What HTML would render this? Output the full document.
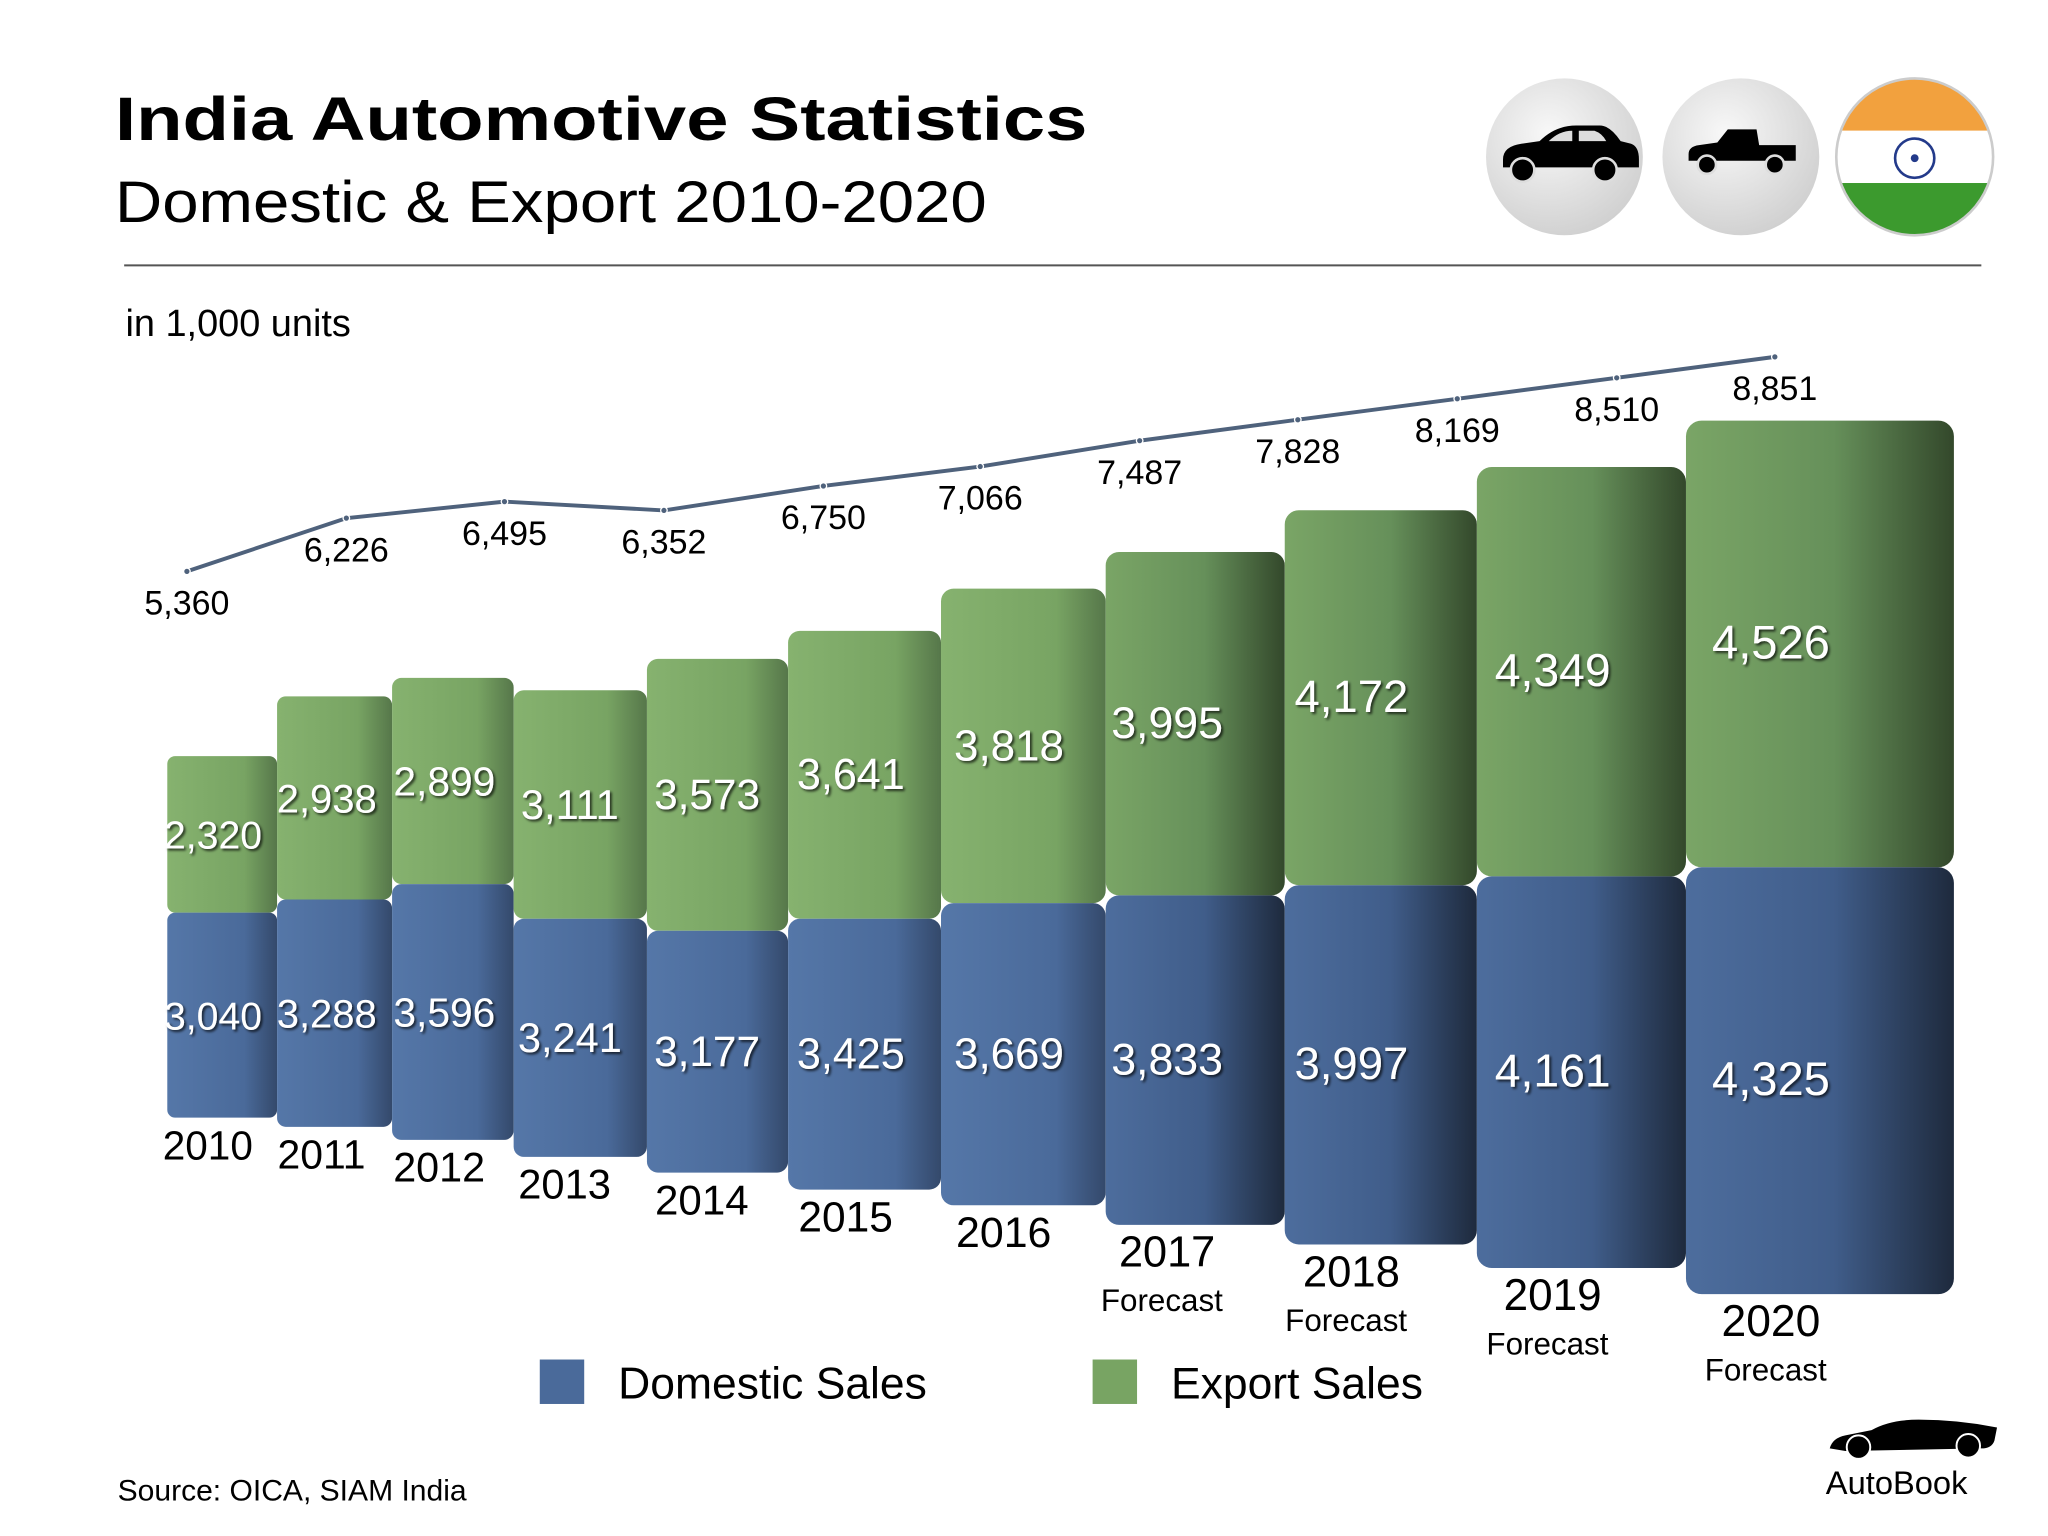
<!DOCTYPE html>
<html><head><meta charset="utf-8"><style>
html,body{margin:0;padding:0;background:#fff;}
svg{display:block;font-family:"Liberation Sans",sans-serif;}
</style></head><body>
<svg id="chart" width="2048" height="1536" viewBox="0 0 1567 1175" preserveAspectRatio="none" xmlns="http://www.w3.org/2000/svg">
<defs>
<linearGradient id="gBlue" x1="0" y1="0" x2="1" y2="0">
<stop offset="0" stop-color="#5577a8"/><stop offset="0.7" stop-color="#4a6a9a"/><stop offset="1" stop-color="#34496b"/></linearGradient>
<linearGradient id="gGreen" x1="0" y1="0" x2="1" y2="0">
<stop offset="0" stop-color="#86b26f"/><stop offset="0.7" stop-color="#78a463"/><stop offset="1" stop-color="#56774a"/></linearGradient>
<linearGradient id="gBlueDark" x1="0" y1="0" x2="1" y2="0">
<stop offset="0" stop-color="#4d6d9d"/><stop offset="0.55" stop-color="#405d8a"/><stop offset="1" stop-color="#1e2a3d"/></linearGradient>
<linearGradient id="gGreenDark" x1="0" y1="0" x2="1" y2="0">
<stop offset="0" stop-color="#7aa566"/><stop offset="0.55" stop-color="#66905a"/><stop offset="1" stop-color="#33482b"/></linearGradient>
<radialGradient id="gCircle" cx="0.4" cy="0.35" r="0.7"><stop offset="0" stop-color="#f8f8f8"/><stop offset="1" stop-color="#cfcfcf"/></radialGradient>
<filter id="sh" x="-10%" y="-10%" width="130%" height="130%"><feDropShadow dx="1.5" dy="1.5" stdDeviation="1" flood-color="#000" flood-opacity="0.7"/></filter>
</defs>
<text x="88" y="107" font-size="47" font-weight="bold" fill="#000" textLength="744" lengthAdjust="spacingAndGlyphs">India Automotive Statistics</text>
<text x="88" y="170" font-size="45" fill="#000" textLength="667" lengthAdjust="spacingAndGlyphs">Domestic &amp; Export 2010-2020</text>
<line x1="95" y1="203" x2="1516" y2="203" stroke="#555" stroke-width="1.5"/>
<text x="96" y="257" font-size="29" fill="#000">in 1,000 units</text>
<g>
<circle cx="1197" cy="120" r="60" fill="url(#gCircle)"/>
<path d="M1150 122 q0-10 14-12 l14-2 q12-12 28-12 l18 0 q8 0 16 12 l8 2 q6 2 6 12 l0 6 l-104 0 z" fill="#000"/>
<path d="M1185 108 q8-8 18-8 l0 8 z M1208 100 l12 0 q6 2 9 8 l-21 0 z" fill="#ddd"/>
<circle cx="1165" cy="130" r="9" fill="#000" stroke="#ddd" stroke-width="2"/><circle cx="1228" cy="130" r="9" fill="#000" stroke="#ddd" stroke-width="2"/>
</g>
<g>
<circle cx="1332" cy="120" r="60" fill="url(#gCircle)"/>
<path d="M1292 118 q0-6 8-7 l14-2 l8-10 l22 0 l2 12 l28 0 l0 12 l-82 0 z" fill="#000"/>
<circle cx="1306" cy="126" r="7" fill="#000" stroke="#ddd" stroke-width="2"/><circle cx="1358" cy="126" r="7" fill="#000" stroke="#ddd" stroke-width="2"/>
</g>
<g>
<clipPath id="fc"><circle cx="1465" cy="120" r="60"/></clipPath>
<g clip-path="url(#fc)"><rect x="1405" y="60" width="120" height="40" fill="#f2a13e"/><rect x="1405" y="100" width="120" height="40" fill="#fff"/><rect x="1405" y="140" width="120" height="40" fill="#3c9a2e"/></g>
<circle cx="1465" cy="120" r="60" fill="none" stroke="#ccc" stroke-width="2"/>
<circle cx="1465" cy="121" r="15" fill="none" stroke="#233a8a" stroke-width="2"/><circle cx="1465" cy="121" r="3" fill="#233a8a"/>
</g>
<g id="bars"></g>
<g id="line"></g>
<g>
<rect x="413" y="1040" width="34" height="34" fill="#4a6a9a"/>
<text x="473" y="1070" font-size="34" fill="#000">Domestic Sales</text>
<rect x="836" y="1040" width="34" height="34" fill="#78a463"/>
<text x="896" y="1070" font-size="34" fill="#000">Export Sales</text>
</g>
<text x="90" y="1148" font-size="23" fill="#000">Source:  OICA, SIAM India</text>
<g>
<path d="M1400 1108 q2-8 12-10 l20-4 q14-8 36-8 q30 0 60 6 l-2 10 q-2 6-10 6 l-104 2 z" fill="#000"/>
<circle cx="1422" cy="1107" r="9" fill="#000" stroke="#fff" stroke-width="1.5"/><circle cx="1506" cy="1106" r="9" fill="#000" stroke="#fff" stroke-width="1.5"/>
<text x="1397" y="1143" font-size="25" fill="#000">AutoBook</text>
</g>
</svg>
<script>
const years = ["2010","2011","2012","2013","2014","2015","2016","2017","2018","2019","2020"];
const domestic = [3040,3288,3596,3241,3177,3425,3669,3833,3997,4161,4325];
const exportSales = [2320,2938,2899,3111,3573,3641,3818,3995,4172,4349,4526];
const totals = [5360,6226,6495,6352,6750,7066,7487,7828,8169,8510,8851];
const forecast = [false,false,false,false,false,false,false,true,true,true,true];

const NS="http://www.w3.org/2000/svg";
function mk(tag,attrs,parent){const e=document.createElementNS(NS,tag);for(const k in attrs)e.setAttribute(k,attrs[k]);parent.appendChild(e);return e;}
const leftE=[128,212,300,393,495,603,720,846,983,1130,1290];
const rightE=[212,300,393,495,603,720,846,983,1130,1290,1495];
const bottoms=[855,862,872,885,897,910,922,937,952,970,990];
const labelX=[155,242,332,428,533,643,764,893,1034,1188,1355];
function scaleK(i){return 0.0516+i*0.001165+i*i*0.0001225;}
const bars=document.getElementById('bars');
for(let i=0;i<years.length;i++){
  const k=scaleK(i), x=leftE[i], w=rightE[i]-leftE[i];
  const dh=domestic[i]*k, eh=exportSales[i]*k;
  const dTop=bottoms[i]-dh, eTop=dTop-eh;
  const dark=i>=7;
  const r=6+i*0.6;
  const eg=mk('rect',{x:x,y:eTop,width:w,height:eh,rx:r,fill:dark?'url(#gGreenDark)':'url(#gGreen)'},bars);
  
  
  const dg=mk('rect',{x:x,y:dTop,width:w,height:dh,rx:r,fill:dark?'url(#gBlueDark)':'url(#gBlue)'},bars);
  
  
  const fs=30+i*0.6;
  const et=mk('text',{x:labelX[i]+(i<7?8:0),y:eTop+eh/2+11,'font-size':fs,fill:'#fff','text-anchor':'middle',filter:'url(#sh)'},bars);
  et.textContent=exportSales[i].toLocaleString('en-US');
  
  
  const dt=mk('text',{x:labelX[i]+(i<7?8:0),y:dTop+dh/2+11,'font-size':fs,fill:'#fff','text-anchor':'middle',filter:'url(#sh)'},bars);
  dt.textContent=domestic[i].toLocaleString('en-US');
  
  
  const yt=mk('text',{x:labelX[i]+(i<7?4:0),y:bottoms[i]+32,'font-size':31+i*0.3,fill:'#000','text-anchor':'middle'},bars);
  yt.textContent=years[i];
  
  
  if(forecast[i]){
    const ft=mk('text',{x:labelX[i]-4,y:bottoms[i]+66,'font-size':24,fill:'#000','text-anchor':'middle'},bars);
    ft.textContent='Forecast';
    
    
  }
}
const lineX=[143,265,386,508,630,750,872,993,1115,1237,1358];
function yLine(v){return 689-v*0.047;}
const lg=document.getElementById('line');
const pts=totals.map((v,i)=>lineX[i]+','+yLine(v)).join(' ');
const pl=mk('polyline',{points:pts,fill:'none',stroke:'#4f627c','stroke-width':3},lg);


totals.forEach((v,i)=>{
  const c=mk('circle',{cx:lineX[i],cy:yLine(v),r:2.5,fill:'#4f627c',stroke:'#fff','stroke-width':1},lg);
  
  
  const t=mk('text',{x:lineX[i],y:yLine(v)+33,'font-size':26,fill:'#000','text-anchor':'middle'},lg);
  t.textContent=v.toLocaleString('en-US');
  
  
});
</script>
</body></html>
